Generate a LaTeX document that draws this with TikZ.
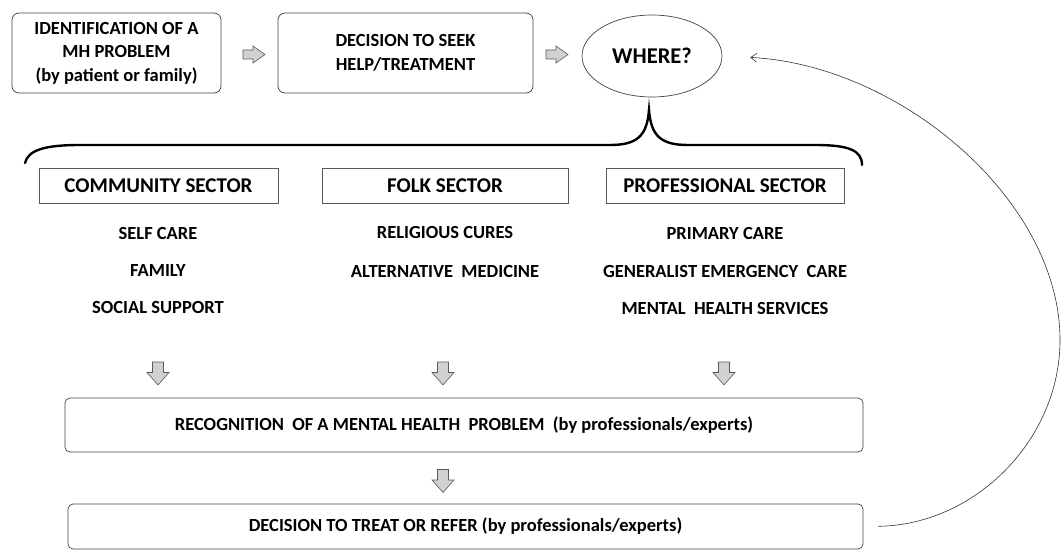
\documentclass[tikz,border=0pt]{standalone}
\usepackage{fontspec}
\setmainfont{Carlito}
\usetikzlibrary{shapes.geometric,arrows.meta}
\begin{document}
\begin{tikzpicture}[x=1pt,y=-1pt,
  rbox/.style={draw=black!75, line width=0.7pt, rounded corners=7pt, align=center, inner sep=0pt, font=\bfseries\fontsize{18.5}{23.5}\selectfont},
  secbox/.style={draw=black!65, line width=0.7pt, inner sep=0pt, minimum height=35pt, font=\bfseries\fontsize{21}{24}\selectfont},
  item/.style={font=\bfseries\fontsize{18.5}{21}\selectfont, inner sep=0pt},
  blkstyle/.style={draw=black!65, fill=black!18, line width=0.6pt, line join=miter},
  brace/.style={line width=2.4pt, line cap=round},
  fb/.style={draw=black!80, line width=0.6pt, -{Straight Barb[length=6pt,width=9pt]}},
  rarrow/.pic={\path[blkstyle] (-11,-4.5) -- (-1,-4.5) -- (-1,-8.5) -- (11,0) -- (-1,8.5) -- (-1,4.5) -- (-11,4.5) -- cycle;},
  darrow/.pic={\path[blkstyle] (-5.5,-11.5) -- (5.5,-11.5) -- (5.5,-1) -- (11,-1) -- (0,11.5) -- (-11,-1) -- (-5.5,-1) -- cycle;}
]
\useasboundingbox (0,0) rectangle (1061,551);

\node[rbox, minimum width=209pt, minimum height=80pt] (ident) at (116.5,53) {IDENTIFICATION OF A\\MH PROBLEM\\(by patient or family)};
\node[rbox, minimum width=255pt, minimum height=80pt] (seek) at (405.5,53) {DECISION TO SEEK\\HELP/TREATMENT};
\node[ellipse, draw=black!75, line width=0.7pt, minimum width=140pt, minimum height=82pt, inner sep=0pt, font=\bfseries\fontsize{22.5}{26}\selectfont] (where) at (652,56) {WHERE?};

\pic (a1) at (254,54.5) {rarrow};
\pic (a2) at (557,54.5) {rarrow};

% brace
\draw[brace] (25,163) .. controls (28,150) and (45,145) .. (80,145) -- (610,145)
  .. controls (637,145) and (647,136) .. (649,110)
  .. controls (651,136) and (661,145) .. (688,145) -- (815,145)
  .. controls (848,145) and (862,150) .. (862,165);

\node[secbox, minimum width=239pt] (comm) at (158.5,185.5) {COMMUNITY SECTOR};
\node[secbox, minimum width=246pt] (folk) at (445,185.5) {FOLK SECTOR};
\node[secbox, minimum width=238pt] (prof) at (725,185.5) {PROFESSIONAL SECTOR};

\node[item] (c1) at (158,233) {SELF CARE};
\node[item] (c2) at (158,271) {FAMILY};
\node[item] (c3) at (158,308) {SOCIAL SUPPORT};
\node[item] (f1) at (445,233) {RELIGIOUS CURES};
\node[item] (f2) at (445,271) {ALTERNATIVE\ \ MEDICINE};
\node[item] (p1) at (725,233) {PRIMARY CARE};
\node[item] (p2) at (725,271) {GENERALIST EMERGENCY\ \ CARE};
\node[item] (p3) at (725,308) {MENTAL\ \ HEALTH SERVICES};

\pic (d1) at (158,373.5) {darrow};
\pic (d2) at (443,373.5) {darrow};
\pic (d3) at (724,373.5) {darrow};

\node[rbox, rounded corners=5pt, minimum width=798pt, minimum height=54pt] (recog) at (464,425) {RECOGNITION\ \ OF A MENTAL HEALTH\ \ PROBLEM\ \ (by professionals/experts)};
\pic (d4) at (443,481) {darrow};
\node[rbox, rounded corners=5pt, minimum width=795pt, minimum height=45pt] (treat) at (465.5,526.5) {DECISION TO TREAT OR REFER (by professionals/experts)};

\draw[fb, shorten <=15pt, shorten >=28pt] (treat.east) .. controls (975,525) and (1060,440) .. (1060,340)
  .. controls (1060,200) and (900,65) .. (where.east);
\end{tikzpicture}
\end{document}
